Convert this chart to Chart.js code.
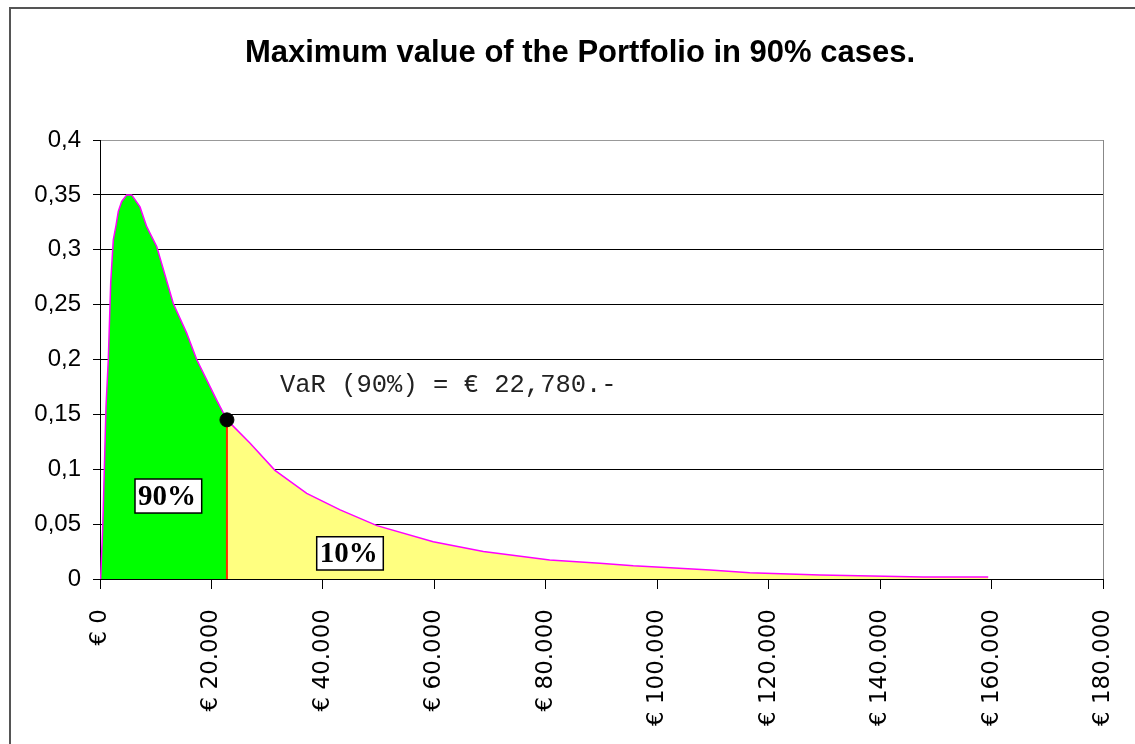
<!DOCTYPE html>
<html>
<head>
<meta charset="utf-8">
<script src="https://cdn.jsdelivr.net/npm/chart.js@4/dist/chart.umd.min.js"></script>
<style>
  html, body { margin: 0; padding: 0; background: #fff; }
  #wrap { width: 1135px; height: 744px; position: relative; }
</style>
</head>
<body>
<div id="wrap"><canvas id="varChart" width="1135" height="744"></canvas></div>
<script>
// portfolio value (EUR) and probability density
const lowValues = [0, 125, 485, 772, 1077, 1490, 1920, 2387, 2871, 3284, 3894, 4791, 5689, 7178, 8381, 10175, 13154, 15559, 17354, 20943, 22780];
const lowDensity = [0, 0.002, 0.046, 0.099, 0.157, 0.2, 0.27, 0.309, 0.322, 0.335, 0.344, 0.35, 0.35, 0.339, 0.321, 0.303, 0.251, 0.224, 0.2, 0.163, 0.145];

const highValues = [22780, 26900, 31400, 37100, 43100, 49700, 59800, 68800, 80700, 89700, 95700, 102300, 109500, 116600, 129200, 147700, 159400];
const highDensity = [0.145, 0.124, 0.099, 0.078, 0.063, 0.0486, 0.034, 0.025, 0.0173, 0.0143, 0.012, 0.0103, 0.0082, 0.0058, 0.0036, 0.0018, 0.0018];

const varValue = 22780;
const varDensity = 0.145;

const xTicks = [0, 20000, 40000, 60000, 80000, 100000, 120000, 140000, 160000, 180000];
const yTicks = [0, 0.05, 0.1, 0.15, 0.2, 0.25, 0.3, 0.35, 0.4];

const chartTitle = 'Maximum value of the Portfolio in 90% cases.';

function toPoints(xs, ys) {
  return xs.map((x, i) => ({ x: x, y: ys[i] }));
}

function euro(v) {
  return '€ ' + String(v).replace(/\B(?=(\d{3})+(?!\d))/g, '.');
}

// text labels placed in data units
const notes = {
  varText: { x: 32300, y: 0.1768, text: 'VaR (90%) = € 22,780.-' },
  boxes: [
    { text: '90%', x1: 6281, x2: 18250, y1: 0.0911, y2: 0.0601 },
    { text: '10%', x1: 38890, x2: 50840, y1: 0.0385, y2: 0.0082 }
  ]
};

const frame = {
  id: 'frame',
  beforeDraw(chart) {
    const c = chart.ctx;
    c.save();
    c.fillStyle = '#fff';
    c.fillRect(0, 0, chart.width, chart.height);
    c.strokeStyle = '#555';
    c.lineWidth = 2;
    c.beginPath();
    c.moveTo(10, chart.height);
    c.lineTo(10, 8);
    c.lineTo(chart.width, 8);
    c.stroke();

    // title (the built-in one can't sit off-centre)
    c.fillStyle = '#000';
    c.font = 'bold 31px "Liberation Sans", Arial, sans-serif';
    c.textAlign = 'center';
    c.textBaseline = 'middle';
    c.fillText(chartTitle, 580, 53);
    c.restore();
  },
  afterDraw(chart) {
    const c = chart.ctx;
    const a = chart.chartArea;
    const xs = chart.scales.x, ys = chart.scales.y;
    c.save();
    // right border of plot area
    c.strokeStyle = '#888';
    c.lineWidth = 1;
    c.beginPath();
    c.moveTo(Math.round(a.right) + 0.5, a.top);
    c.lineTo(Math.round(a.right) + 0.5, a.bottom);
    c.stroke();

    // VaR text
    c.fillStyle = '#222';
    c.font = '25.5px "Liberation Mono", monospace';
    c.textBaseline = 'middle';
    c.textAlign = 'left';
    c.fillText(notes.varText.text, xs.getPixelForValue(notes.varText.x), ys.getPixelForValue(notes.varText.y));

    // boxed percentages
    notes.boxes.forEach(b => {
      const l = xs.getPixelForValue(b.x1), r = xs.getPixelForValue(b.x2);
      const t = ys.getPixelForValue(b.y1), btm = ys.getPixelForValue(b.y2);
      c.fillStyle = '#fff';
      c.fillRect(l, t, r - l, btm - t);
      c.save();
      c.beginPath();
      c.rect(l, t, r - l, btm - t);
      c.clip();
      c.fillStyle = '#000';
      c.font = 'bold 29px "Liberation Serif", serif';
      c.textBaseline = 'middle';
      c.fillText(b.text, l + 3, (t + btm) / 2 + 1);
      c.restore();
      c.strokeStyle = '#000';
      c.lineWidth = 1.5;
      c.strokeRect(l, t, r - l, btm - t);
    });
    c.restore();
  }
};

const ctx = document.getElementById('varChart').getContext('2d');

new Chart(ctx, {
  type: 'line',
  data: {
    datasets: [
      {
        data: toPoints(lowValues, lowDensity),
        order: 3,
        borderColor: '#ff00ff',
        borderWidth: 1.5,
        backgroundColor: '#00ff00',
        fill: 'origin',
        pointRadius: 0,
        tension: 0
      },
      {
        data: toPoints(highValues, highDensity),
        order: 2,
        borderColor: '#ff00ff',
        borderWidth: 1.5,
        backgroundColor: '#ffff80',
        fill: 'origin',
        pointRadius: 0,
        tension: 0
      },
      {
        data: toPoints([varValue, varValue], [0, varDensity]),
        order: 1,
        borderColor: '#ff2a00',
        borderWidth: 2,
        fill: false,
        pointRadius: 0
      },
      {
        data: toPoints([varValue], [varDensity]),
        order: 0,
        showLine: false,
        pointRadius: 7,
        pointBackgroundColor: '#000',
        pointBorderColor: '#000'
      }
    ]
  },
  options: {
    responsive: false,
    animation: false,
    events: [],
    layout: { padding: { left: 0, right: 32, top: 140, bottom: 0 } },
    plugins: {
      legend: { display: false },
      tooltip: { enabled: false },
      title: { display: false }
    },
    scales: {
      x: {
        type: 'linear',
        min: 0,
        max: 180000,
        afterBuildTicks(scale) {
          scale.ticks = xTicks.map(v => ({ value: v }));
        },
        afterFit(scale) {
          scale.height = 165;
          scale.paddingLeft = 0;
          scale.paddingRight = 0;
        },
        ticks: {
          minRotation: 90,
          maxRotation: 90,
          padding: 20,
          color: '#000',
          font: { family: '"DejaVu Sans", sans-serif', size: 23 },
          callback: v => euro(v)
        },
        grid: { drawOnChartArea: false, drawTicks: true, tickLength: 10, color: '#000', tickColor: '#000' },
        border: { color: '#000', width: 1 }
      },
      y: {
        min: 0,
        max: 0.4,
        z: 1,
        afterBuildTicks(scale) {
          scale.ticks = yTicks.map(v => ({ value: v }));
        },
        afterFit(scale) {
          scale.width = 100;
          scale.paddingTop = 0;
          scale.paddingBottom = 0;
        },
        ticks: {
          padding: 12,
          color: '#000',
          font: { family: '"Liberation Sans", Arial, sans-serif', size: 24 },
          callback: v => String(Number(v.toFixed(2))).replace('.', ',')
        },
        grid: {
          color: c => (c.tick && c.tick.value === 0.4 ? '#999' : '#000'),
          tickColor: '#000',
          tickLength: 7,
          lineWidth: 1
        },
        border: { color: '#000', width: 1 }
      }
    }
  },
  plugins: [frame]
});
</script>
</body>
</html>
